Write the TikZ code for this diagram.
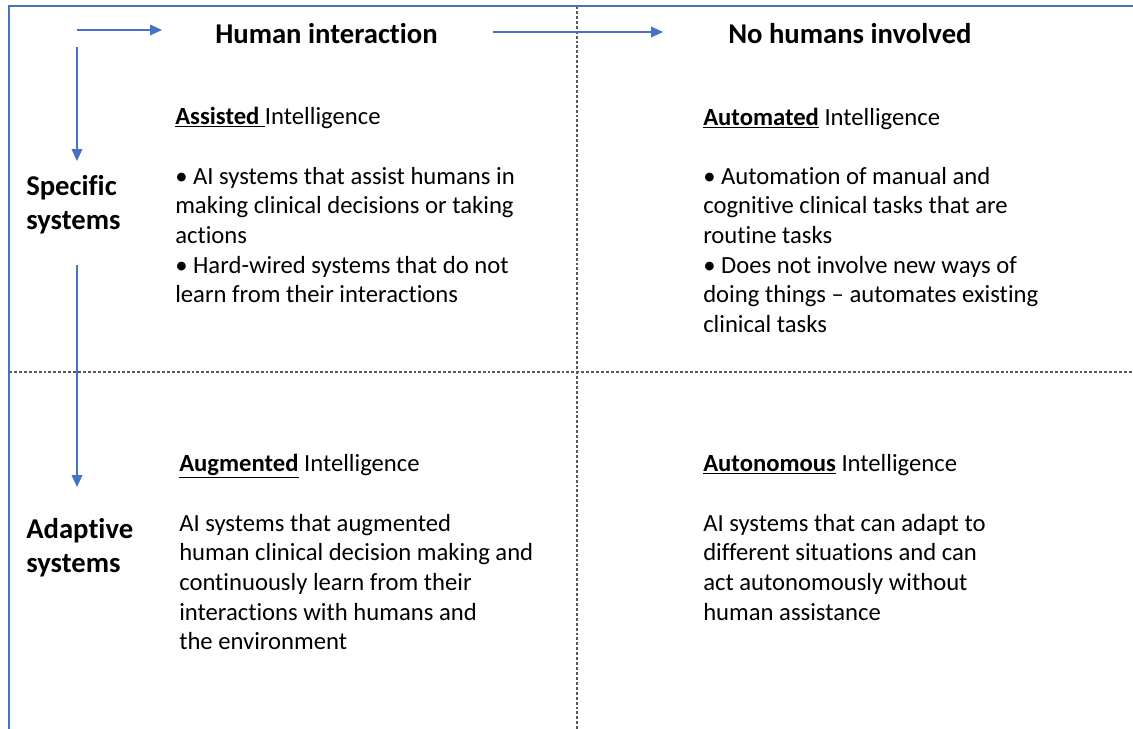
\documentclass[tikz,border=0pt]{standalone}
\usepackage{fontspec}
\setmainfont{Carlito}[Ligatures=NoCommon]
\usetikzlibrary{arrows.meta,positioning}
\definecolor{axisblue}{HTML}{4472C4}
\definecolor{gridgray}{HTML}{595959}
% lignes empilees, ligne de base = premiere ligne
\newcommand{\qlines}[1]{\begin{tabular}[t]{@{}l@{}}#1\end{tabular}}
\tikzset{
    flowarrow/.style={draw=axisblue, line width=1.1pt, -{Triangle[length=9pt,width=8pt]}},
    gridline/.style={draw=gridgray, line width=0.8pt, dash pattern=on 2.2pt off 1.5pt},
    head/.style={anchor=base west, inner sep=0pt, font=\bfseries\fontsize{21.5}{25.5}\selectfont},
    side/.style={anchor=base west, inner sep=0pt, font=\bfseries\fontsize{21.5}{25.5}\selectfont},
    qtitle/.style={anchor=base west, inner sep=0pt, font=\fontsize{18.5}{22.3}\selectfont},
    qbody/.style={anchor=base west, inner sep=0pt, font=\fontsize{18.5}{22.3}\selectfont},
}

\begin{document}
\begin{tikzpicture}[x=0.75pt, y=-0.75pt]
    \useasboundingbox (0,0) rectangle (1133,729);
    %lignes du quadrillage
    \draw[gridline] (577,6) -- (577,729) (9,372) -- (1133,372);
    %cadre
    \draw[draw=axisblue, line width=1.5pt] (9,729) -- (9,6) -- (1133,6);

    \coordinate(H1) at (77,30);
    \coordinate(H2) at (162,30);
    \coordinate(H3) at (493,32);
    \coordinate(H4) at (663,32);
    \coordinate(V1) at (77,47);
    \coordinate(V2) at (77,161);
    \coordinate(V3) at (77,265);
    \coordinate(V4) at (77,487);

    \draw[flowarrow] (H1) -- (H2);
    \draw[flowarrow] (H3) -- (H4);
    \draw[flowarrow] (V1) -- (V2);
    \draw[flowarrow] (V3) -- (V4);

    %en-tetes
    \node[head] (human) at (215,43) {Human interaction};
    \node[head] (nohuman) at (728,43) {No humans involved};
    \node[side] (specific) at (26,195) {\qlines{Specific\\systems}};
    \node[side] (adaptive) at (26,538) {\qlines{Adaptive\\systems}};

    %quadrants
    \node[qtitle] (assisted) at (175,124) {\underline{\textbf{Assisted}\ }Intelligence};
    \node[qbody] (assistedtxt) at (175,184) {\qlines{• AI systems that assist humans in\\making clinical decisions or taking\\actions\\• Hard-wired systems that do not\\learn from their interactions}};

    \node[qtitle] (automated) at (703,125) {\underline{\textbf{Automated}} Intelligence};
    \node[qbody] (automatedtxt) at (703,184) {\qlines{• Automation of manual and\\cognitive clinical tasks that are\\routine tasks\\• Does not involve new ways of\\doing things – automates existing\\clinical tasks}};

    \node[qtitle] (augmented) at (179,471) {\underline{\textbf{Augmented}} Intelligence};
    \node[qbody] (augmentedtxt) at (179,531) {\qlines{AI systems that augmented\\human clinical decision making and\\continuously learn from their\\interactions with humans and\\the environment}};

    \node[qtitle] (autonomous) at (703,471) {\underline{\textbf{Autonomous}} Intelligence};
    \node[qbody] (autonomoustxt) at (703,531) {\qlines{AI systems that can adapt to\\different situations and can\\act autonomously without\\human assistance}};
\end{tikzpicture}
\end{document}
